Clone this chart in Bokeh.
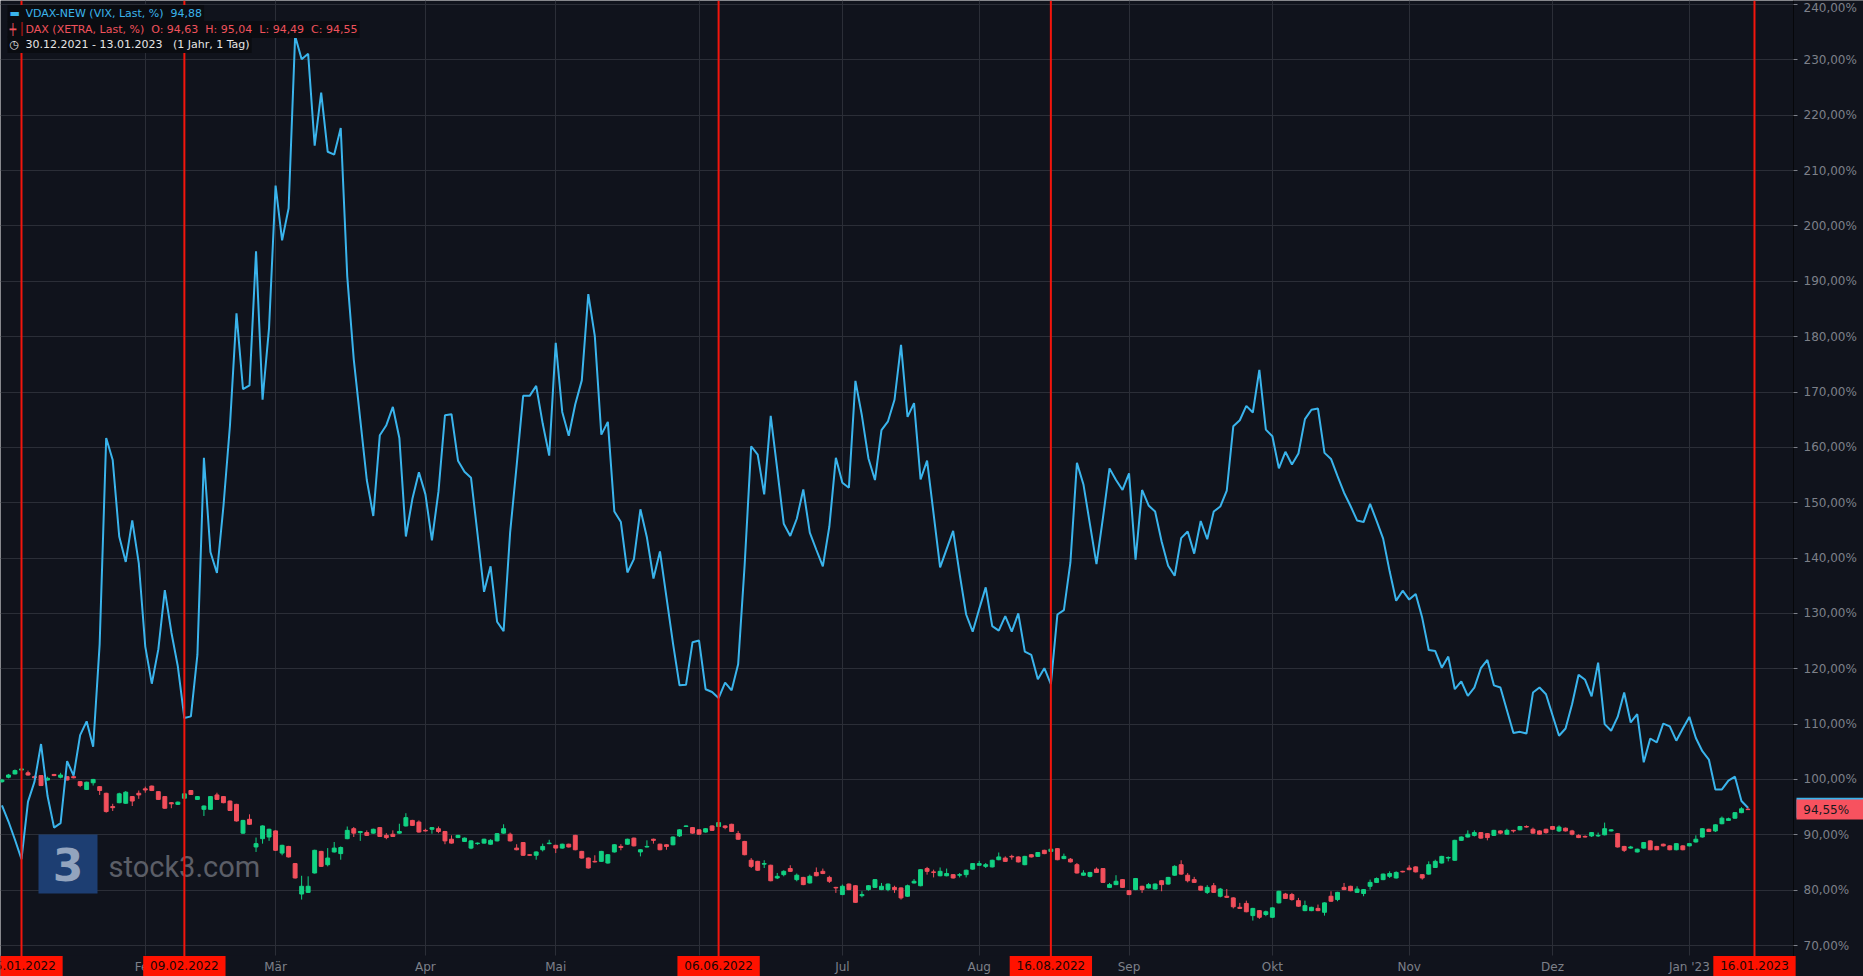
from bokeh.plotting import figure
from bokeh.models import Range1d, FixedTicker, Span, Label, ColumnDataSource
from bokeh.embed import file_html
from bokeh.resources import INLINE

# ---------------- data ----------------
# VDAX-NEW, normalised in %, one value per trading day (30.12.2021 .. 13.01.2023)
vdax = [
    95.3, 92.4, 89.1, 85.6, 96.0, 99.6, 106.4, 97.0, 91.3, 92.1,
    103.3, 100.7, 108.0, 110.5, 105.9, 124.5, 161.7, 157.7, 143.9, 139.3,
    146.8, 139.1, 124.0, 117.3, 123.5, 134.2, 126.6, 120.4, 111.1, 111.4,
    122.5, 158.1, 141.1, 137.3, 149.4, 164.0, 184.2, 170.5, 171.2, 195.4,
    168.6, 181.6, 207.3, 197.4, 203.2, 234.3, 230.1, 231.1, 214.5, 224.1,
    213.4, 212.9, 217.7, 190.9, 175.9, 165.0, 154.1, 147.6, 162.2, 164.0,
    167.3, 161.7, 143.9, 150.7, 155.5, 151.5, 143.2, 152.0, 165.8, 166.0,
    157.6, 155.6, 154.5, 144.3, 133.9, 138.5, 128.5, 126.8, 144.6, 156.7,
    169.3, 169.3, 171.1, 164.3, 158.5, 178.9, 166.4, 162.1, 167.8, 172.1,
    187.7, 180.1, 162.3, 164.6, 148.4, 146.5, 137.4, 139.8, 148.8, 143.7,
    136.3, 141.2, 132.9, 124.6, 117.0, 117.1, 124.8, 125.1, 116.3, 115.8,
    114.7, 117.5, 116.1, 120.8, 138.8, 160.2, 158.7, 151.5, 165.7, 156.0,
    146.2, 144.0, 147.1, 152.4, 144.6, 141.5, 138.5, 145.7, 158.1, 153.6,
    152.7, 172.0, 165.7, 158.0, 154.1, 163.1, 164.7,
    168.6, 178.5, 165.5, 168.0, 154.2, 157.6, 148.0, 138.3, 141.6, 144.9,
    137.1, 129.8, 126.7, 130.8, 134.7, 127.7, 126.9, 129.5, 126.7, 130.0,
    123.1, 122.5, 118.1, 120.1, 117.2, 129.8, 130.6, 139.2, 157.2, 153.3,
    146.1, 138.9, 147.3, 156.2, 154.1, 152.3, 155.3, 139.7, 152.3, 149.5,
    148.4, 143.0, 138.6, 136.8, 143.6, 144.8, 140.8, 146.7, 143.4, 148.4,
    149.3, 152.2, 163.8, 164.9, 167.5, 166.3, 174.0, 163.2, 162.0, 156.2,
    159.2, 156.9, 158.9, 165.1, 166.8, 167.0, 159.0, 157.9,
    154.8, 151.8, 149.4, 146.8, 146.5, 149.8, 146.7, 143.5, 137.6, 132.3,
    134.1, 132.5, 133.5, 129.2, 123.4, 123.2, 120.2, 122.2, 116.3, 117.7,
    115.1, 116.6, 120.1, 121.6, 117.0, 116.6, 112.5, 108.4, 108.6, 108.3,
    115.7, 116.6, 115.4, 111.6, 107.9, 109.2, 113.6, 118.9, 118.0, 115.0,
    121.1, 110.0, 108.8, 111.3, 115.7, 110.3, 111.8, 103.1, 107.4, 106.7,
    110.1, 109.6, 107.0, 109.2, 111.3, 107.5, 105.1, 103.6, 98.2, 98.2,
    99.8, 100.5, 96.1, 94.88,
]

# DAX (XETRA) daily candles (open, high, low, close), normalised in %
dax_ohlc = [
    (99.6, 100.1, 99.4, 99.9), (100.4, 101.0, 100.2, 100.8), (101.0, 101.8, 100.9, 101.6),
    (101.7, 102.1, 101.6, 101.9), (101.2, 101.6, 100.7, 100.8), (100.5, 100.7, 100.2, 100.3),
    (100.7, 100.8, 98.8, 98.9), (99.9, 100.5, 99.8, 100.2), (100.9, 101.0, 100.6, 100.7),
    (100.4, 101.2, 100.2, 100.8), (100.5, 100.6, 99.8, 99.9), (100.5, 100.6, 100.2, 100.3),
    (99.6, 99.7, 98.6, 98.9), (98.2, 99.6, 98.1, 99.5), (99.4, 100.1, 98.9, 100.0),
    (98.7, 98.8, 97.2, 98.0), (97.5, 97.6, 94.0, 94.2), (95.1, 95.6, 94.3, 94.9),
    (95.8, 97.6, 95.7, 97.4), (95.7, 97.9, 95.6, 97.7), (96.9, 97.0, 95.2, 96.1),
    (97.5, 98.0, 96.5, 97.2), (98.3, 98.7, 97.6, 98.1), (98.8, 98.9, 97.9, 98.0),
    (97.8, 97.9, 96.3, 96.4), (96.9, 97.0, 94.7, 94.8), (95.8, 95.9, 94.8, 95.6),
    (95.5, 96.0, 95.4, 95.9), (96.6, 97.5, 96.5, 97.4), (98.0, 98.1, 97.2, 97.3),
    (96.4, 97.0, 96.3, 96.9), (94.6, 95.3, 93.4, 95.2), (94.6, 97.0, 94.5, 96.9),
    (97.2, 97.6, 96.3, 96.4), (96.9, 97.0, 95.7, 95.8), (96.1, 96.2, 94.3, 94.4),
    (95.5, 95.6, 92.4, 92.5), (90.3, 92.7, 90.2, 92.6), (92.8, 93.7, 91.8, 91.9),
    (87.8, 89.5, 86.9, 88.4), (89.3, 91.7, 88.4, 91.6), (89.6, 91.1, 88.9, 91.0),
    (90.7, 90.8, 87.1, 87.2), (86.7, 88.2, 86.3, 88.1), (87.9, 88.0, 85.9, 86.0),
    (84.8, 84.9, 82.1, 82.2), (79.3, 82.6, 78.3, 80.7), (79.6, 82.5, 79.5, 80.7),
    (83.1, 87.3, 83.0, 87.2), (87.0, 87.1, 84.2, 84.3), (84.6, 87.6, 84.3, 85.8),
    (86.9, 88.7, 86.8, 87.6), (86.6, 87.9, 85.5, 87.7), (89.3, 91.5, 89.2, 90.8),
    (91.1, 91.4, 89.6, 90.3), (90.4, 90.7, 88.9, 90.6), (90.4, 90.8, 89.8, 89.9),
    (90.3, 91.1, 90.2, 91.0), (91.3, 91.4, 89.6, 89.7), (89.9, 90.3, 89.2, 89.5),
    (90.1, 90.8, 89.6, 89.7), (90.3, 92.0, 90.2, 90.6), (91.6, 93.9, 91.5, 93.1),
    (92.6, 92.7, 91.6, 91.7), (92.3, 92.6, 90.4, 90.5), (90.8, 91.1, 90.6, 90.7),
    (91.0, 91.4, 90.2, 91.3), (91.1, 91.5, 90.3, 90.6), (90.6, 90.7, 88.3, 88.9),
    (89.2, 89.9, 88.4, 88.5), (89.5, 90.0, 89.4, 89.9), (88.8, 89.5, 88.7, 89.4),
    (87.6, 89.0, 87.4, 88.9), (88.4, 88.6, 88.2, 88.5), (88.5, 89.3, 88.4, 89.2),
    (88.3, 89.2, 88.2, 89.0), (88.9, 90.3, 88.8, 90.2), (90.3, 91.9, 90.2, 91.1),
    (90.1, 90.4, 88.8, 88.9), (87.6, 88.3, 87.2, 87.3), (88.6, 88.7, 86.2, 86.3),
    (86.4, 86.5, 86.2, 86.3), (86.3, 87.0, 85.5, 86.9), (87.3, 88.4, 87.0, 87.9),
    (88.4, 89.1, 88.3, 88.5), (88.1, 88.2, 86.7, 87.6), (87.6, 88.4, 87.5, 88.3),
    (88.3, 88.4, 87.7, 87.8), (89.9, 90.0, 87.2, 87.3), (87.0, 87.1, 85.7, 85.8),
    (85.8, 85.9, 83.9, 84.0), (85.2, 86.3, 85.0, 85.1), (85.2, 87.1, 85.1, 87.0),
    (84.9, 86.5, 84.8, 86.4), (86.9, 88.3, 86.8, 88.2), (87.9, 88.3, 87.2, 87.7),
    (88.3, 89.3, 88.2, 89.2), (89.4, 89.5, 87.9, 88.0), (86.9, 87.4, 86.1, 87.3),
    (87.8, 89.0, 87.7, 87.9), (89.2, 89.3, 88.4, 89.0), (88.3, 88.4, 87.2, 87.3),
    (88.2, 88.3, 87.3, 87.9), (88.2, 89.7, 88.1, 89.6), (89.8, 91.0, 89.6, 90.9),
    (91.5, 91.7, 91.4, 91.6), (91.3, 91.4, 90.2, 90.3), (90.9, 91.0, 90.0, 90.1),
    (90.5, 91.2, 90.4, 91.1), (91.6, 91.7, 90.7, 90.8), (91.5, 92.3, 91.4, 92.2),
    (91.6, 91.7, 91.0, 91.3), (91.9, 92.0, 90.5, 90.6), (90.2, 90.7, 89.1, 89.2),
    (88.8, 88.9, 86.3, 86.4), (85.4, 85.8, 84.0, 84.3), (85.2, 85.3, 83.5, 83.6),
    (84.7, 85.4, 84.0, 84.8), (84.5, 84.6, 81.6, 81.7), (82.2, 83.1, 82.0, 82.5),
    (82.8, 83.6, 82.5, 83.4), (83.9, 84.5, 83.3, 83.4), (81.9, 83.0, 81.6, 82.7),
    (82.3, 82.4, 80.9, 81.0), (81.3, 82.8, 81.2, 82.5), (83.2, 84.1, 82.5, 82.6),
    (83.4, 83.9, 82.9, 83.0), (82.3, 82.6, 81.3, 81.6), (80.5, 80.6, 79.5, 80.4),
    (79.2, 81.0, 79.1, 80.7), (81.1, 81.2, 80.0, 80.1), (80.8, 80.9, 77.7, 77.8),
    (79.0, 79.8, 78.7, 79.2), (80.1, 80.9, 79.9, 80.8), (80.5, 82.0, 80.4, 81.9),
    (80.1, 81.3, 80.0, 80.7), (80.1, 81.2, 79.8, 81.1), (80.5, 80.8, 79.5, 80.1),
    (80.4, 80.5, 78.3, 78.6), (78.9, 81.0, 78.8, 80.8), (81.3, 82.0, 81.2, 81.6),
    (80.8, 83.8, 80.7, 83.7), (83.9, 84.2, 82.8, 83.4), (83.3, 83.7, 82.3, 83.2),
    (82.6, 84.1, 82.5, 83.4), (82.6, 83.9, 82.5, 83.0), (82.8, 82.9, 82.1, 82.2),
    (82.7, 83.1, 82.3, 82.8), (82.8, 83.7, 82.3, 83.6), (83.8, 84.9, 83.7, 84.8),
    (84.5, 85.3, 84.4, 84.8), (84.3, 84.9, 84.0, 84.6), (84.2, 85.5, 84.1, 85.4),
    (85.5, 86.8, 85.4, 86.0), (85.8, 86.1, 85.1, 85.2), (86.1, 86.4, 85.5, 86.0),
    (86.0, 86.1, 85.0, 85.1), (84.6, 86.2, 84.5, 86.1), (86.4, 86.5, 85.9, 86.0),
    (86.1, 86.9, 86.0, 86.8), (87.2, 87.3, 86.5, 86.6), (87.0, 87.5, 86.9, 87.4),
    (87.5, 87.6, 85.4, 85.5), (85.7, 86.6, 85.6, 86.1), (85.6, 85.8, 85.0, 85.1),
    (84.6, 84.9, 83.0, 83.1), (82.7, 83.6, 82.6, 83.1), (82.5, 83.3, 82.3, 83.2),
    (83.8, 84.1, 83.1, 83.2), (83.9, 84.0, 81.3, 81.4), (80.5, 81.3, 80.4, 81.0),
    (81.0, 82.7, 80.9, 81.6), (81.9, 82.0, 80.4, 80.5), (79.9, 80.0, 79.1, 79.2),
    (80.1, 82.2, 80.0, 82.1), (80.7, 80.8, 79.5, 80.1), (80.4, 81.3, 80.3, 81.0),
    (80.2, 81.2, 80.1, 81.1), (81.7, 81.8, 79.8, 81.0), (81.1, 82.4, 81.0, 82.3),
    (82.7, 84.5, 82.6, 84.3), (84.6, 85.4, 82.8, 82.9), (82.7, 83.1, 81.4, 81.7),
    (81.9, 82.4, 81.3, 81.4), (80.7, 80.8, 79.9, 80.0), (79.6, 80.9, 79.3, 80.5),
    (80.8, 81.3, 79.5, 79.6), (78.9, 80.4, 78.7, 80.2), (78.9, 80.2, 78.6, 78.7),
    (78.6, 78.7, 76.7, 77.0), (76.9, 77.7, 76.6, 76.7), (77.6, 78.1, 76.0, 76.1),
    (75.4, 76.8, 74.5, 76.7), (76.3, 76.4, 74.8, 75.1), (75.6, 76.3, 75.3, 76.1),
    (75.1, 76.9, 75.0, 76.8), (77.7, 79.9, 77.6, 79.8), (79.3, 79.5, 78.4, 78.5),
    (79.2, 79.5, 78.1, 78.3), (78.1, 78.6, 77.0, 77.1), (76.3, 78.1, 76.2, 77.2),
    (76.3, 77.0, 76.2, 76.9), (76.7, 77.4, 76.2, 76.3), (76.0, 77.8, 75.4, 77.7),
    (78.9, 79.8, 77.9, 78.0), (78.3, 79.7, 78.0, 79.6), (80.5, 81.3, 80.0, 80.1),
    (80.7, 80.8, 79.8, 79.9), (79.6, 80.7, 79.5, 80.2), (79.4, 80.2, 78.9, 80.1),
    (80.7, 81.9, 80.1, 81.4), (81.4, 82.3, 81.3, 82.1), (81.9, 83.0, 81.8, 82.9),
    (82.5, 83.4, 82.2, 83.0), (82.2, 83.4, 82.1, 83.2), (83.4, 83.5, 83.2, 83.3),
    (84.0, 84.5, 83.6, 83.7), (84.2, 84.3, 83.2, 83.3), (82.8, 82.9, 81.9, 82.2),
    (82.9, 85.2, 82.8, 84.6), (84.1, 85.5, 84.0, 85.2), (84.9, 86.2, 84.8, 86.1),
    (85.8, 86.1, 85.2, 85.9), (85.4, 89.1, 85.3, 89.0), (89.0, 89.7, 88.9, 89.6),
    (89.6, 90.8, 89.5, 90.1), (89.9, 90.8, 89.7, 90.4), (90.4, 90.5, 89.3, 89.4),
    (90.2, 90.3, 89.0, 89.5), (89.9, 90.9, 89.8, 90.8), (90.7, 90.8, 90.1, 90.3),
    (90.1, 91.1, 90.0, 90.8), (90.8, 90.9, 90.4, 90.7), (90.9, 91.6, 90.8, 91.5),
    (91.5, 91.7, 91.3, 91.4), (91.0, 91.3, 90.2, 90.3), (90.7, 90.8, 90.0, 90.1),
    (91.0, 91.1, 90.2, 90.4), (91.5, 91.6, 90.9, 91.0), (90.7, 91.7, 90.5, 91.4),
    (91.2, 91.3, 90.6, 90.7), (90.7, 90.9, 89.9, 90.1), (89.9, 90.1, 89.4, 89.5),
    (89.7, 89.9, 89.5, 89.6), (89.8, 90.5, 89.6, 90.4), (89.8, 90.4, 89.6, 89.9),
    (90.0, 92.2, 89.9, 91.1), (90.7, 91.0, 90.6, 90.9), (90.2, 90.3, 87.7, 87.8),
    (87.9, 88.0, 86.9, 87.2), (87.6, 88.0, 87.5, 87.8), (86.9, 87.5, 86.8, 87.4),
    (87.6, 88.7, 87.5, 88.6), (88.9, 89.0, 87.2, 87.3), (87.9, 88.0, 87.2, 87.3),
    (88.3, 88.4, 87.9, 88.0), (88.0, 88.1, 87.2, 87.3), (87.3, 88.5, 87.2, 88.4),
    (88.0, 88.1, 87.2, 87.3), (88.0, 88.5, 87.9, 88.4), (88.7, 89.9, 88.6, 89.2),
    (89.6, 91.2, 89.5, 91.1), (91.0, 91.1, 90.5, 90.6), (90.7, 91.9, 90.5, 91.8),
    (92.0, 93.3, 91.9, 93.0), (92.6, 93.1, 92.5, 92.9), (93.0, 94.1, 92.9, 94.0),
    (94.0, 95.0, 93.9, 94.7), (94.63, 95.04, 94.49, 94.55),
]
dax_open = [c[0] for c in dax_ohlc]
dax_high = [c[1] for c in dax_ohlc]
dax_low = [c[2] for c in dax_ohlc]
dax_close = [c[3] for c in dax_ohlc]

# x axis: trading-day index; month starts and marked dates
month_idx = [22, 42, 65, 85, 107, 129, 150, 173, 195, 216, 238, 259]
month_labels = ["Feb", "Mär", "Apr", "Mai", "Jun", "Jul", "Aug", "Sep", "Okt", "Nov", "Dez", "Jan '23"]
event_idx = [3, 28, 110, 161, 269]
event_labels = ["05.01.2022", "09.02.2022", "06.06.2022", "16.08.2022", "16.01.2023"]
y_ticks = list(range(70, 241, 10))

legend_vdax = "VDAX-NEW (VIX, Last, %)  94,88"
legend_dax = "DAX (XETRA, Last, %)  O: 94,63  H: 95,04  L: 94,49  C: 94,55"
legend_range = "30.12.2021 - 13.01.2023   (1 Jahr, 1 Tag)"
last_vdax_label = "94,88%"
last_dax_label = "94,55%"

# ---------------- layout / style ----------------
W, H = 1863, 976
AXIS_X_PX, AXIS_Y_PX = 1793, 955       # price axis line / date axis line (pixels)
X0_PX, PX_PER_DAY = 1.45, 6.515
Y70_PX, PX_PER_PCT = 945.0, 5.535

BG = "#10131c"
GRID = "#2b2e37"
BLUE = "#3ab4ec"
UP = "#12d283"
DOWN = "#f24f5c"
EVENT = "#f3150c"
EVENT_BOX = "#ff1200"
AXIS_TXT = "#7d8089"
FONT = "DejaVu Sans"
NB = "\u00a0"


def px2x(px):
    return (px - X0_PX) / PX_PER_DAY


def py2y(py):
    return 70 + (Y70_PX - py) / PX_PER_PCT


def nb(s):
    return s.replace(" ", NB)


x_start, x_end = px2x(0), px2x(W)
y_start, y_end = py2y(H), py2y(0)
x_axis_pos, y_axis_pos = px2x(AXIS_X_PX), py2y(AXIS_Y_PX)

p = figure(width=W, height=H, title=None,
           x_range=Range1d(x_start, x_end), y_range=Range1d(y_start, y_end),
           y_axis_location="right", output_backend="svg", toolbar_location=None,
           min_border=0, min_border_left=0, min_border_top=0,
           min_border_right=0, min_border_bottom=0,
           background_fill_color=BG, border_fill_color=BG, outline_line_color=None)

# axes, placed at fixed positions inside the full-size frame
p.yaxis.fixed_location = x_axis_pos
p.yaxis.ticker = FixedTicker(ticks=y_ticks)
p.yaxis.major_label_overrides = {t: f"{t},00%" for t in y_ticks}
p.yaxis.major_label_text_font = FONT
p.yaxis.major_label_text_font_size = "12px"
p.yaxis.major_label_text_color = AXIS_TXT
p.yaxis.axis_line_color = "#06070a"
p.yaxis.major_tick_in = 0
p.yaxis.major_tick_out = 4
p.yaxis.major_tick_line_color = AXIS_TXT
p.yaxis.minor_tick_line_color = None
p.yaxis.major_label_standoff = 6

p.xaxis.fixed_location = y_axis_pos
p.xaxis.ticker = FixedTicker(ticks=month_idx)
p.xaxis.major_label_overrides = dict(zip(month_idx, month_labels))
p.xaxis.major_label_text_font = FONT
p.xaxis.major_label_text_font_size = "12px"
p.xaxis.major_label_text_color = AXIS_TXT
p.xaxis.axis_line_color = None
p.xaxis.major_tick_line_color = None
p.xaxis.minor_tick_line_color = None
p.xaxis.major_tick_in = 0
p.xaxis.major_tick_out = 0
p.xaxis.minor_tick_in = 0
p.xaxis.minor_tick_out = 0
p.xaxis.major_label_standoff = 4

p.xgrid.grid_line_color = GRID
p.ygrid.grid_line_color = GRID
p.xgrid.level = "image"
p.ygrid.level = "image"

# keep grid lines out of the axis strips
p.quad(left=[x_axis_pos], right=[x_end], bottom=[y_start], top=[y_end],
       fill_color=BG, line_color=None, level="underlay")
p.quad(left=[x_start], right=[x_axis_pos], bottom=[y_start], top=[y_axis_pos],
       fill_color=BG, line_color=None, level="underlay")

# watermark
p.rect(x=[px2x(67.5)], y=[py2y(863.5)], width=59, height=59,
       width_units="screen", height_units="screen",
       fill_color="#1d3e72", line_color=None, level="underlay")
p.add_layout(Label(x=px2x(67.5), y=py2y(864), text="3", text_font=FONT,
                   text_font_style="bold", text_font_size="44px", text_color="#93a4be",
                   text_align="center", text_baseline="middle", level="underlay"))
p.add_layout(Label(x=px2x(108), y=py2y(866), text="stock3.com", text_font="Roboto",
                   text_font_size="29px", text_color="#5b5e67",
                   text_align="left", text_baseline="middle", level="underlay"))

# candles
idx = list(range(len(dax_open)))
colors = [UP if c >= o else DOWN for o, c in zip(dax_open, dax_close)]
src = ColumnDataSource(dict(
    x=idx, o=dax_open, h=dax_high, l=dax_low, c=dax_close,
    top=[max(o, c) for o, c in zip(dax_open, dax_close)],
    bottom=[min(o, c) for o, c in zip(dax_open, dax_close)],
    color=colors))
p.segment(x0="x", y0="h", x1="x", y1="l", color="color", line_width=1, source=src)
p.vbar(x="x", top="top", bottom="bottom", width=0.6, fill_color="color",
       line_color="color", line_width=1, source=src)

# VDAX line
p.line(x=list(range(len(vdax))), y=vdax, line_color=BLUE, line_width=2)

# event lines + date boxes
for ei, el in zip(event_idx, event_labels):
    p.add_layout(Span(location=ei, dimension="height", line_color=EVENT, line_width=2))
    p.add_layout(Label(x=ei, y=py2y(965.5), text=NB + el + NB, text_font=FONT,
                       text_font_size="12px", text_color="#1a0505",
                       text_align="center", text_baseline="middle",
                       background_fill_color=EVENT_BOX, padding=3))

# last-value markers on the price axis
p.add_layout(Label(x=px2x(1796), y=vdax[-1], text=NB + last_vdax_label + NB * 3,
                   text_font=FONT, text_font_size="12px", text_color="#101010",
                   text_align="left", text_baseline="middle",
                   background_fill_color=BLUE, padding=3))
p.add_layout(Label(x=px2x(1796), y=dax_close[-1], text=NB + last_dax_label + NB * 3,
                   text_font=FONT, text_font_size="12px", text_color="#16181d",
                   text_align="left", text_baseline="middle",
                   background_fill_color="#f7525f", padding=3))

# legend block (top left)
rows = [(13, legend_vdax, BLUE, "\u25ac"), (29, legend_dax, "#f0525c", "\u253f"),
        (44, legend_range, "#e6e6e6", "\u25f7")]
for ry, txt, col, icon in rows:
    p.add_layout(Label(x=px2x(23), y=py2y(ry), text=nb(txt), text_font=FONT,
                       text_font_size="11px", text_color=col, text_align="left",
                       text_baseline="middle", background_fill_color="#0a0c11",
                       padding=2))
    p.add_layout(Label(x=px2x(7), y=py2y(ry), text=icon + NB, text_font=FONT,
                       text_font_size="11px", text_color=col, text_align="left",
                       text_baseline="middle", background_fill_color="#0a0c11",
                       padding=2))

html = file_html(p, INLINE, title="VDAX-NEW vs DAX")
html = html.replace("<body>", '<body style="margin:0;padding:0;background:%s;overflow:hidden;">' % BG, 1)
open("out.html", "w").write(html)
